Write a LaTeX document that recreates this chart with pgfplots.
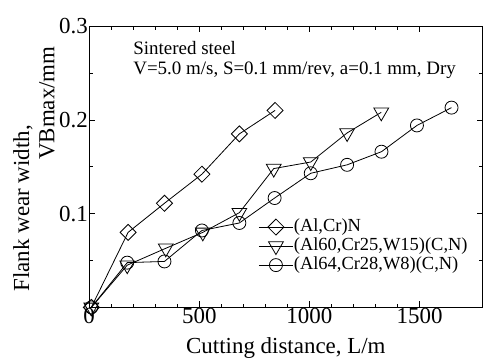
\documentclass[border=0pt]{standalone}
\usepackage{fontspec}
\setmainfont{Liberation Serif}
\usepackage{pgfplots}
\pgfplotsset{compat=1.18}
\begin{document}
\begin{tikzpicture}
\begin{axis}[
 scale only axis, width=393bp, height=281bp,
 xmin=0, xmax=1786, ymin=0, ymax=0.3,
 xtick={0,500,1000,1500}, xticklabels={0,500,1000,1500}, minor x tick num=4,
 ytick={0,0.1,0.2,0.3}, yticklabels={,0.1,0.2,0.3}, minor y tick num=1,
 tick align=inside, major tick length=6bp, minor tick length=3.5bp,
 tick style={black, line width=0.6bp},
 axis line style={line width=0.8bp},
 ticklabel style={font=\fontsize{23}{26}\selectfont},
 xticklabel style={inner sep=1bp},
 yticklabel style={inner sep=1bp},
 /pgf/number format/assume math mode=true,
 xlabel={Cutting distance, L/m},
 label style={font=\fontsize{23}{26}\selectfont},
 xlabel style={at={(axis description cs:0.5,0)}, anchor=center, yshift=-41bp},
 legend style={at={(axis cs:768,0.0960)}, anchor=north west, draw=none, fill=none,
   font=\fontsize{18.5}{19}\selectfont, inner sep=0pt, row sep=0pt,
   nodes={inner sep=0.5bp, text height=13.5bp, text depth=4.5bp}},
 legend cell align=left,
 legend image code/.code={\draw[mark repeat=2,mark phase=2] plot coordinates {(0bp,0bp)(17bp,0bp)(34bp,0bp)};},
 every axis plot/.append style={black, line width=0.8bp},
 clip=false,
]
\addplot[mark=diamond, mark size=8bp, mark options={fill=white, xscale=1.333, solid}]
 coordinates {(10,0) (177,0.080) (342,0.111) (512,0.142) (682,0.185) (844,0.210)};
\addplot[mark=triangle, mark size=8.5bp, mark options={fill=white, rotate=180, solid}]
 coordinates {(10,0) (173,0.045) (348,0.063) (516,0.080) (682,0.101) (838,0.148) (1006,0.155) (1171,0.186) (1326,0.208)};
\addplot[mark=o, mark size=6.5bp, mark options={fill=white, solid}]
 coordinates {(10,0) (173,0.0477) (342,0.049) (512,0.082) (682,0.090) (842,0.1166) (1006,0.143) (1171,0.152) (1327,0.166) (1488,0.194) (1645,0.213)};
\legend{{(Al,Cr)N},{(Al60,Cr25,W15)(C,N)},{(Al64,Cr28,W8)(C,N)}}
\node[anchor=north west, align=left, inner sep=0pt, font=\fontsize{19}{20}\selectfont] at (axis cs:200,0.284) {Sintered steel\\V=5.0 m/s, S=0.1 mm/rev, a=0.1 mm, Dry};
\node[rotate=90, font=\fontsize{23}{26}\selectfont] at (rel axis cs:-0.168,0.352) {Flank wear width,};
\node[rotate=90, font=\fontsize{23}{26}\selectfont] at (rel axis cs:-0.107,0.726) {VBmax/mm};
\coordinate (bl) at (rel axis cs:0,0);
\coordinate (tr) at (rel axis cs:1,1);
\end{axis}
\pgfresetboundingbox
\path ([xshift=-89bp,yshift=-53bp]bl) rectangle ([xshift=0.4bp,yshift=26bp]tr);
\end{tikzpicture}
\end{document}
